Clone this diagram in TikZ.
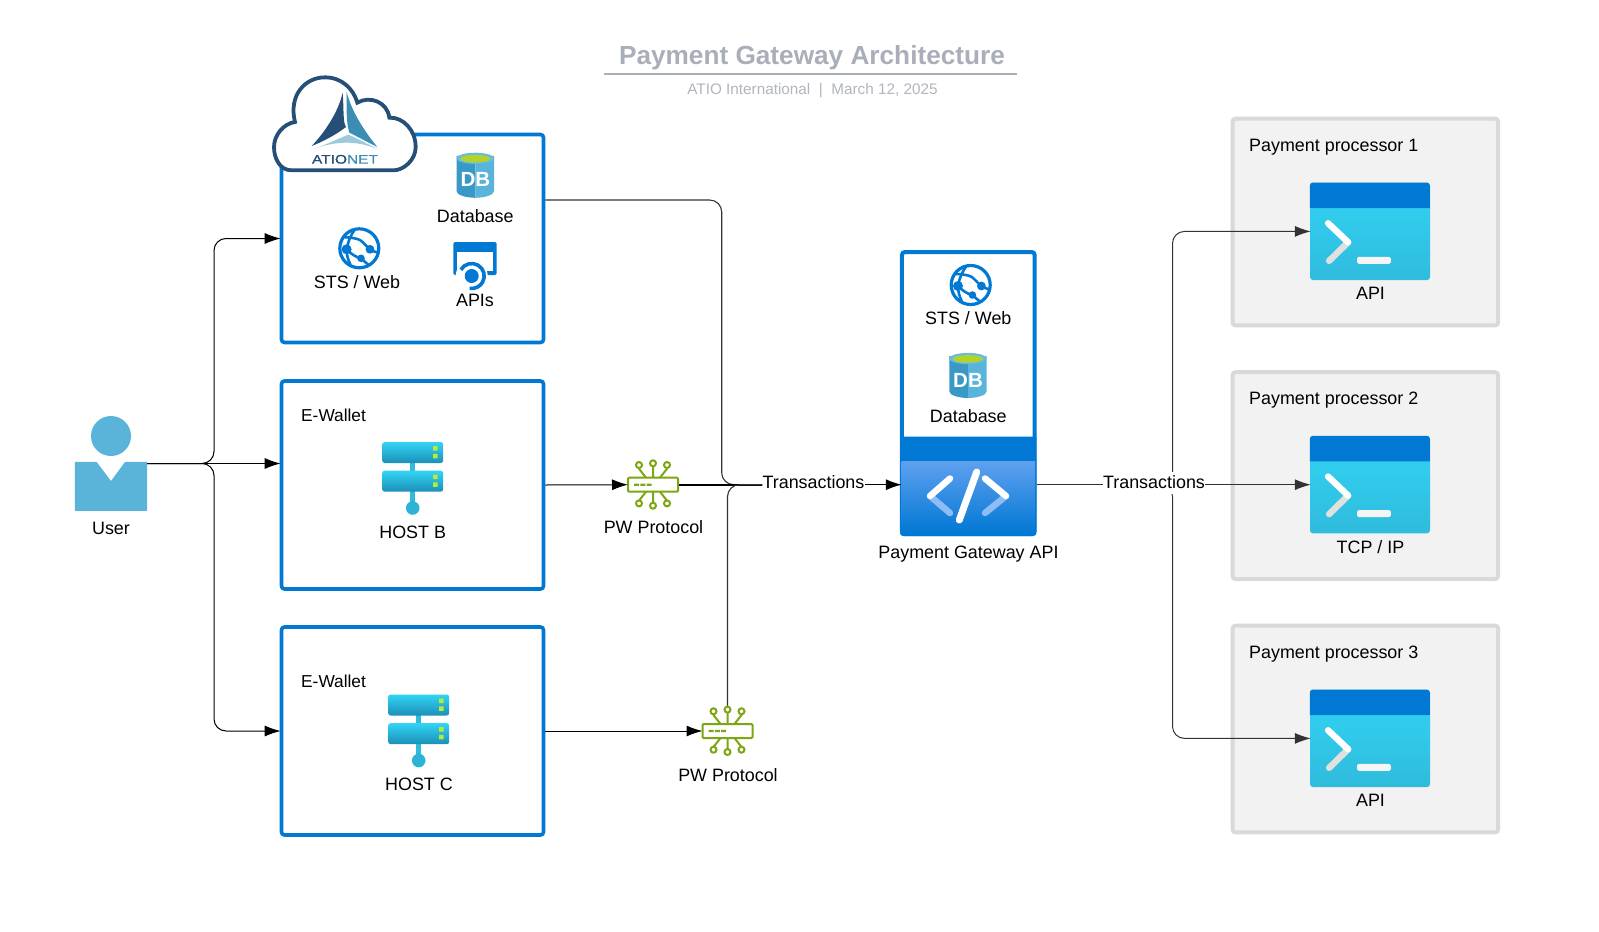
\documentclass[tikz,border=0pt]{standalone}
\usepackage{fontspec}
\setmainfont{Liberation Sans}
\usetikzlibrary{arrows.meta}
\definecolor{azure}{HTML}{0078D4}
\definecolor{procfill}{HTML}{F2F2F2}
\definecolor{procline}{HTML}{D9D9D9}
\definecolor{termtop}{HTML}{32D4F5}
\definecolor{termbot}{HTML}{2FBBDC}
\definecolor{hostbot}{HTML}{1C8FB8}
\definecolor{dbleft}{HTML}{3999C6}
\definecolor{dbright}{HTML}{59B4D9}
\definecolor{dblime}{HTML}{B4D32A}
\definecolor{userblue}{HTML}{5AB4DA}
\definecolor{pwgreen}{HTML}{7DA712}
\definecolor{led}{HTML}{B4EC36}
\definecolor{codetop}{HTML}{5EA0EF}
\definecolor{navy}{HTML}{264F78}
\definecolor{teal}{HTML}{3C8DB4}
\definecolor{pale}{HTML}{9CCADD}
\definecolor{titlegray}{HTML}{A9AFBA}
\definecolor{subgray}{HTML}{B1B5BF}
\definecolor{darkline}{HTML}{333333}
\tikzset{
  lbl/.style={inner sep=0pt,font=\fontsize{17.9}{21}\selectfont,text=black},
  bluebox/.style={draw=azure,line width=3.6pt,fill=white,rounded corners=3pt,inner sep=0pt,minimum width=262pt,minimum height=208pt},
  procbox/.style={draw=procline,line width=4pt,fill=procfill,rounded corners=3pt,inner sep=0pt,minimum width=265.5pt,minimum height=206.8pt},
  termbody/.style={top color=termtop,bottom color=termbot,rounded corners=3pt,inner sep=0pt,minimum width=120pt,minimum height=97.3pt},
  pwrect/.style={draw=pwgreen,line width=2pt,fill=white,rounded corners=1pt,inner sep=0pt,minimum width=50pt,minimum height=14pt},
  conn/.style={draw=black,line width=1pt,rounded corners=12pt,shorten >=-1pt,-{Latex[length=16pt,width=11pt]}},
  plainconn/.style={draw=darkline,line width=1.1pt,rounded corners=12pt},
  grayconn/.style={draw=darkline,line width=1pt,rounded corners=12pt,shorten >=-1pt,-{Latex[length=16pt,width=11pt,color=darkline]}},
  globeicon/.pic={
    \draw[azure,line width=3.2pt] (0,0) circle[radius=19.5pt];
    \draw[azure,line width=2.6pt] (-12.7,1) .. controls (-11,-8) and (-8,-14) .. (-4.3,-19);
    \draw[azure,line width=2.6pt] (-15,-11) .. controls (-9,-11) and (-3,-10) .. (0.7,-8.3) .. controls (4,-6) and (7,-2) .. (10.7,1) .. controls (13,3) and (17,4) .. (19,4);
    \draw[azure,line width=2.6pt] (-12.7,1) .. controls (-8,6) and (-3,9) .. (1.7,10) .. controls (4,12) and (7,15) .. (10,17);
    \draw[azure,line width=2.6pt] (-12.7,1) .. controls (-13,6) and (-11,12) .. (-9,16);
    \fill[azure] (-12.7,1) circle[radius=5pt] (10.7,1) circle[radius=4.4pt] (1.7,10) circle[radius=3.8pt];
  },
  dbicon/.pic={
    \fill[dbleft] (-18.7,-19.5) -- (-18.7,16) .. controls (-18.7,20) and (-8,22.5) .. (0,22.5) -- (0,-19.5) -- cycle;
    \fill[dbright] (18.7,-19.5) -- (18.7,16) .. controls (18.7,20) and (8,22.5) .. (0,22.5) -- (0,-19.5) -- cycle;
    \fill[dbright!90!white] (0,-17) ellipse[x radius=18.7pt,y radius=5.6pt];
    \fill[dblime] (0,-16.6) ellipse[x radius=15pt,y radius=3.8pt];
    \node[inner sep=0pt,text=white,font=\fontsize{20.5}{22}\selectfont\bfseries] at (0,4.5) {DB};
  },
  apiicon/.pic={
    \fill[azure,rounded corners=1.5pt] (-21.7,0) rectangle (21.7,33);
    \fill[white] (-17.9,9.5) rectangle (17.9,29);
    \fill[white] (-3.3,34) circle[radius=16pt];
    \fill[azure] (-3.3,34) circle[radius=7pt];
    \draw[azure,line width=3.6pt] (-3.3,34) ++(150:12.5pt) arc[start angle=150,end angle=-100,radius=12.5pt];
  },
  hosticon/.pic={
    \fill[termbot] (-2.6,20) rectangle (2.6,62);
    \fill[termbot!85!hostbot] (0,66) circle[radius=6.8pt];
    \shade[top color=termtop,bottom color=hostbot,rounded corners=2.5pt] (-30.5,0) rectangle (30.5,21);
    \shade[top color=termtop,bottom color=hostbot,rounded corners=2.5pt] (-30.5,28.7) rectangle (30.5,49.7);
    \fill[led] (20.4,4.2) rectangle (24.9,8.7) (20.4,11.8) rectangle (24.9,16.3) (20.4,32.7) rectangle (24.9,37.2) (20.4,40.3) rectangle (24.9,44.8);
  },
  pwicon/.pic={
    \draw[pwgreen,line width=2pt] (-14,-19.7) -- (-14,-16) -- (-7,-7) (14,-19.7) -- (14,-16) -- (7,-7) (0,-21.4) -- (0,-7);
    \draw[pwgreen,line width=2pt] (-14,18.7) -- (-14,16) -- (-7,7) (14,18.7) -- (14,16) -- (7,7) (0,21) -- (0,7);
    \draw[pwgreen,line width=2pt,fill=white]
      (-14,-19.7) circle[radius=3pt] (0,-21.4) circle[radius=3pt] (14,-19.7) circle[radius=3pt]
      (-14,18.7) circle[radius=3pt] (0,21) circle[radius=3pt] (14,18.7) circle[radius=3pt];
    \fill[pwgreen] (-19,-1.2) rectangle (-14,1.2) (-12.7,-1.2) rectangle (-7.7,1.2) (-6.4,-1.2) rectangle (-1.4,1.2);
  },
  termicon/.pic={
    \fill[azure,rounded corners=3pt] (0,25.5) -- (0,0) -- (120,0) -- (120,25.5);
    \draw[white!88!black,line width=6.4pt,line cap=round] (38.3,59.7) -- (19.3,78.3);
    \draw[white,line width=6.4pt,line cap=round] (18.3,40.7) -- (38.3,59.7);
    \fill[white!96!black,rounded corners=1.5pt] (47.3,74.3) rectangle (81,81.3);
  }
}
\begin{document}
\begin{tikzpicture}[x=1pt,y=-1pt]
\useasboundingbox (0,0) rectangle (1599,932);
\fill[white] (0,0) rectangle (1599,932);

% title
\node[inner sep=0pt,text=titlegray,font=\fontsize{26.2}{30}\selectfont\bfseries] (title) at (812,58) {Payment Gateway Architecture};
\coordinate (ruleL) at (604,73.7);
\coordinate (ruleR) at (1017,73.7);
\draw[titlegray,line width=2pt] (ruleL) -- (ruleR);
\node[inner sep=0pt,text=subgray,font=\fontsize{15.3}{18}\selectfont] (subtitle) at (812.5,91) {ATIO International \ | \ March 12, 2025};

% left boxes
\node[bluebox] (box1) at (412.5,238.5) {};
\node[bluebox] (box2) at (412.5,485) {};
\node[bluebox] (box3) at (412.5,731) {};

% processors
\node[procbox] (proc1) at (1365.3,222) {};
\node[procbox] (proc2) at (1365.3,475.6) {};
\node[procbox] (proc3) at (1365.3,729) {};
\node[termbody] (term1) at (1370,231.4) {};
\node[termbody] (term2) at (1370,484.7) {};
\node[termbody] (term3) at (1370,738.4) {};
\pic at (term1.north west) {termicon};
\pic at (term2.north west) {termicon};
\pic at (term3.north west) {termicon};
\node[lbl,anchor=west] (p1) at (1249,147) {Payment processor 1};
\node[lbl,anchor=west] (p2) at (1249,400.6) {Payment processor 2};
\node[lbl,anchor=west] (p3) at (1249,654) {Payment processor 3};
\node[lbl] (t1) at (1370.5,293) {API};
\node[lbl] (t2) at (1370.5,546.6) {TCP / IP};
\node[lbl] (t3) at (1370.5,800) {API};

% gateway
\node[draw=azure,line width=4pt,fill=white,rounded corners=3pt,inner sep=0pt,minimum width=132.7pt,minimum height=282pt] (gw) at (968.3,393) {};
\fill[azure,rounded corners=3pt] (900,436.5) -- (900,536) -- (1036.3,536) -- (1036.3,436.5);
\shade[top color=codetop,bottom color=azure] (901.7,461.7) rectangle (1035,534);
\draw[codetop!70!white,line width=6.5pt,line cap=round] (930,496) -- (950,513);
\draw[codetop!70!white,line width=6.5pt,line cap=round] (1006,496) -- (985,513);
\draw[white,line width=6.5pt,line cap=round] (950,478.5) -- (930,496);
\draw[white,line width=6.5pt,line cap=round] (985,478.5) -- (1006,496);
\draw[white,line width=7pt,line cap=round] (976.7,472) -- (959.3,520);

% user
\fill[userblue] (111,436) circle[radius=20pt];
\node[inner sep=0pt,minimum width=72pt,minimum height=48.5pt] (user) at (111,486.3) {};
\fill[userblue] (user.north west) -- (96.7,462) -- (111,481) -- (125,462) -- (user.north east) -- (user.south east) -- (user.south west) -- cycle;
\node[lbl] (userlbl) at (111,528) {User};

% PW protocol rectangles
\node[pwrect] (pwb) at (653,484.7) {};
\node[pwrect] (pwc) at (727.5,731) {};

% transaction labels
\node[lbl] (tr1) at (813.5,482) {Transactions};
\node[lbl,fill=white,minimum height=22pt] (tr2) at (1154,482.5) {Transactions};

% connector helper points
\coordinate (userout) at (147,463.5);
\coordinate (b1top) at (214,238.5);
\coordinate (b3bot) at (214,731);
\coordinate (box1out) at (543,200);
\coordinate (bend1) at (721.7,200);
\coordinate (pwctop) at (727.5,706);
\coordinate (trunkx) at (1172.5,484.7);
\coordinate (tr1in) at (tr1.west |- pwb);
\coordinate (tr1out) at (tr1.east |- pwb);
\coordinate (tr2in) at (tr2.west |- pwb);
\coordinate (tr2out) at (tr2.east |- pwb);

% connectors
\draw[conn] (userout) -| (b1top) -- (box1.west);
\draw[conn] (userout) -- (box2.west |- userout);
\draw[conn] (userout) -| (b3bot) -- (box3.west);
\draw[plainconn] (box1.east |- box1out) -- (bend1) |- (tr1in);
\draw[conn] (box2.east) -- (pwb.west);
\draw[draw=black,line width=2pt] (pwb.east) -- (tr1in);
\draw[plainconn] (pwctop) |- (tr1in);
\draw[conn,line width=1.5pt,shorten >=-2pt] (tr1out) -- (gw.west |- pwb);
\draw[conn] (box3.east) -- (pwc.west);
\draw[plainconn,line width=1.5pt] (gw.east |- pwb) -- (tr2in);
\draw[grayconn] (tr2out -| tr2.center) -| (trunkx |- term1) -- (term1.west);
\draw[grayconn] (tr2out) -- (term2.west);
\draw[grayconn] (tr2out -| tr2.center) -| (trunkx |- term3) -- (term3.west);
\node[lbl,fill=white,minimum height=22pt] (tr2b) at (tr2) {Transactions};

% PW icons
\pic at (pwb.center) {pwicon};
\pic at (pwc.center) {pwicon};
\node[lbl] (pwblbl) at (653.5,527) {PW Protocol};
\node[lbl] (pwclbl) at (728,775) {PW Protocol};

% box contents: Ationet
\pic at (359.3,248.3) {globeicon};
\node[lbl] (sts1) at (357,282.5) {STS / Web};
\pic at (475.3,175.3) {dbicon};
\node[lbl] (db1) at (475.3,216) {Database};
\pic at (475,242) {apiicon};
\node[lbl] (api1) at (475,300) {APIs};

% cloud
\begin{scope}[shift={(270,72)},x=0.33333pt,y=-0.33333pt]
\draw[navy,line width=3.8pt,fill=white]
  (65,295) .. controls (30,295) and (12,260) .. (12,225)
  .. controls (12,190) and (40,155) .. (75,150)
  .. controls (55,70) and (105,16) .. (165,16)
  .. controls (215,16) and (250,50) .. (262,92)
  .. controls (300,70) and (352,90) .. (358,137)
  .. controls (400,135) and (437,175) .. (437,225)
  .. controls (437,265) and (400,295) .. (370,295) -- cycle;
\fill[navy] (218,62) .. controls (222,110) and (218,150) .. (228,165) .. controls (195,190) and (160,208) .. (125,222) .. controls (165,180) and (205,120) .. (218,62) -- cycle;
\fill[teal] (230,60) .. controls (230,110) and (228,150) .. (238,182) .. controls (265,195) and (295,212) .. (322,225) .. controls (285,180) and (245,120) .. (230,60) -- cycle;
\fill[pale] (125,232) .. controls (165,220) and (205,200) .. (235,188) .. controls (265,200) and (295,218) .. (325,232) .. controls (290,218) and (260,212) .. (230,212) .. controls (195,212) and (160,220) .. (125,232) -- cycle;
\node[inner sep=0pt,font=\fontsize{12.5}{14}\selectfont\addfontfeature{FakeBold=0.6}] (logo) at (225,262) {\scalebox{1.24}[1]{\textcolor{navy}{ATIO}\textcolor{teal}{NET}}};
\end{scope}

% E-wallet contents
\node[lbl,anchor=west,font=\fontsize{17.3}{21}\selectfont] (ew1) at (301,415.5) {E-Wallet};
\pic at (412.7,442) {hosticon};
\node[lbl] (hostb) at (412.7,532.5) {HOST B};
\node[lbl,anchor=west,font=\fontsize{17.3}{21}\selectfont] (ew2) at (301,681.5) {E-Wallet};
\pic at (418.7,694.5) {hosticon};
\node[lbl] (hostc) at (419,784) {HOST C};

% gateway contents
\pic at (970.7,285) {globeicon};
\node[lbl] (sts2) at (968.3,317.7) {STS / Web};
\pic at (968,375.5) {dbicon};
\node[lbl] (db2) at (968.3,416) {Database};
\node[lbl] (gwlbl) at (968.5,554) {Payment Gateway API};
\end{tikzpicture}
\end{document}
